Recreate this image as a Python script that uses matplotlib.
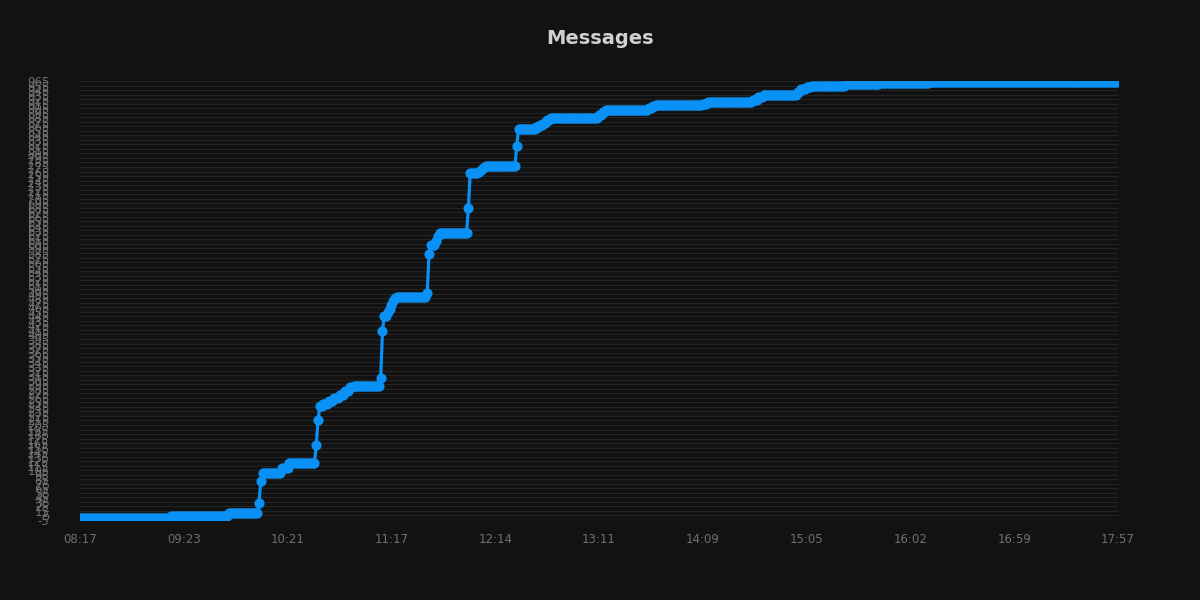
import numpy as np
import matplotlib.pyplot as plt

plt.rcParams["axes.unicode_minus"] = False

# one category per minute on the x axis, 581 points
n_points = 581
x_labels = ["08:17", "09:23", "10:21", "11:17", "12:14", "13:11",
            "14:09", "15:05", "16:02", "16:59", "17:57"]

# cumulative message count: index where the count changes, and the new count
step_idx = [0, 51, 83, 100, 101, 102, 113, 117, 132, 133, 134, 136, 139, 142,
            145, 148, 151, 153, 168, 169, 170, 172, 173, 174, 175, 176, 177,
            194, 195, 196, 199, 200, 201, 217, 218, 223, 224, 225, 226, 227,
            244, 245, 255, 257, 259, 261, 263, 290, 292, 294, 318, 320, 322,
            348, 351, 353, 376, 379, 382, 401, 403, 406, 409, 428, 447, 475]
step_val = [0, 4, 10, 33, 82, 99, 110, 122, 161, 216, 247, 252, 258, 265,
            272, 280, 288, 291, 309, 413, 446, 455, 462, 470, 478, 485, 488,
            497, 583, 603, 612, 622, 629, 684, 762, 765, 769, 772, 775, 777,
            821, 859, 864, 868, 873, 878, 883, 890, 896, 901, 905, 909, 912,
            915, 918, 919, 924, 929, 934, 940, 947, 951, 954, 958, 960, 962]

# hold each count until the next change
lengths = np.diff(step_idx + [n_points])
counts = np.repeat(step_val, lengths)
xs = np.arange(n_points)

bg = "#121212"
fig = plt.figure(figsize=(12, 6), dpi=100, facecolor=bg)
ax = fig.add_axes([0.0667, 0.1333, 0.865, 0.7317], facecolor=bg)

ax.plot(xs, counts, color="#0a91f5", linewidth=2.3, marker="o",
        markersize=7.3, markeredgewidth=0, zorder=3, solid_capstyle="round",
        solid_joinstyle="round")

ax.set_xlim(0, n_points - 1)
ax.set_ylim(-5, 965)
ax.set_yticks(np.arange(-5, 966, 10))
ax.set_xticks(np.linspace(0, n_points - 1, len(x_labels)))
ax.set_xticklabels(x_labels)
ax.grid(axis="y", color="#242424", linewidth=0.8)
ax.tick_params(axis="both", length=0, colors="#707070", labelsize=8.5)
ax.tick_params(axis="y", pad=22)
ax.tick_params(axis="x", pad=9)
for s in ax.spines.values():
    s.set_visible(False)

fig.suptitle("Messages", y=0.952, color="#d0d0d0", fontsize=14, fontweight="bold")

fig.savefig("out.png", facecolor=bg)
